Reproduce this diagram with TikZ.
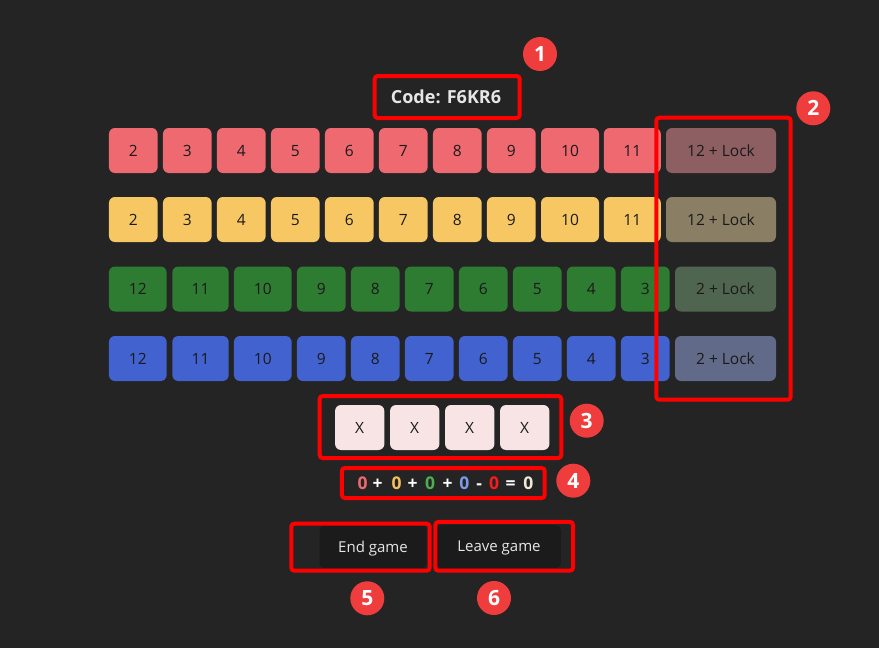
\documentclass[tikz,border=0pt]{standalone}
\usepackage{fontspec}
\setmainfont{Open Sans}
\definecolor{bg}{HTML}{242424}
\definecolor{cred}{HTML}{EE6970}
\definecolor{cyel}{HTML}{F7C763}
\definecolor{cgrn}{HTML}{2E7B32}
\definecolor{cblu}{HTML}{4263CF}
\definecolor{lred}{HTML}{8D5E62}
\definecolor{lyel}{HTML}{8A7E64}
\definecolor{lgrn}{HTML}{4F654F}
\definecolor{lblu}{HTML}{626A89}
\definecolor{xbox}{HTML}{F8E4E4}
\definecolor{btn}{HTML}{1B1B1B}
\definecolor{ann}{HTML}{FF0000}
\definecolor{badge}{HTML}{EF3D3D}
\definecolor{celltext}{HTML}{1A1A1A}
\definecolor{lighttext}{HTML}{E6E6E6}
\definecolor{eqred}{HTML}{EE6970}
\definecolor{eqyel}{HTML}{F5BF5B}
\definecolor{eqgrn}{HTML}{4CAF50}
\definecolor{eqblu}{HTML}{7B9BEA}
\definecolor{eqmin}{HTML}{FF1A1A}
\definecolor{eqend}{HTML}{EFEAD8}
\tikzset{
  cellbox/.style={rectangle, rounded corners=6pt, inner sep=0pt, minimum height=45pt,
    text=celltext, font=\fontsize{15.5}{18}\selectfont, text depth=0pt},
  annbox/.style={rectangle, rounded corners=3pt, draw=ann, line width=4pt, inner sep=0pt},
  badgenode/.style={circle, fill=badge, inner sep=0pt, minimum size=34pt, text=white,
    font=\fontsize{21}{24}\selectfont\bfseries},
  btnbox/.style={rectangle, rounded corners=5pt, fill=btn, inner sep=0pt, minimum height=43pt,
    text=lighttext, font=\fontsize{15}{18}\selectfont, text depth=0pt},
  eqchar/.style={inner sep=0pt, anchor=base, font=\fontsize{17.5}{20}\selectfont\bfseries},
}
\begin{document}
\begin{tikzpicture}[x=1pt,y=-1pt]
\fill[bg] (0,0) rectangle (879,648);
\useasboundingbox (0,0) rectangle (879,648);

% code
\node[annbox, minimum width=145pt, minimum height=42pt] (ann1) at (447.2,97) {};
\node[inner sep=0pt, text=lighttext, font=\fontsize{18}{21}\selectfont\bfseries] (code) at (446,97) {Code: F6KR6};

% red row
\foreach \v [count=\i from 0] in {2,3,4,5,6,7,8,9} {
  \node[cellbox, fill=cred, minimum width=48.7pt] (r\v) at ({133.3+54*\i},150.5) {\v};
}
\node[cellbox, fill=cred, minimum width=58pt] (r10) at (570,150.5) {10};
\node[cellbox, fill=cred, minimum width=57pt] (r11) at (632.3,150.5) {11};
\node[cellbox, fill=lred, minimum width=110pt] (rlock) at (721,150.5) {12 + Lock};

% yellow row
\foreach \v [count=\i from 0] in {2,3,4,5,6,7,8,9} {
  \node[cellbox, fill=cyel, minimum width=48.7pt] (y\v) at ({133.3+54*\i},219.5) {\v};
}
\node[cellbox, fill=cyel, minimum width=58pt] (y10) at (570,219.5) {10};
\node[cellbox, fill=cyel, minimum width=57pt] (y11) at (632.3,219.5) {11};
\node[cellbox, fill=lyel, minimum width=110pt] (ylock) at (721,219.5) {12 + Lock};

% green row
\node[cellbox, fill=cgrn, minimum width=57.7pt] (g12) at (137.8,289) {12};
\node[cellbox, fill=cgrn, minimum width=56.4pt] (g11) at (200.5,289) {11};
\node[cellbox, fill=cgrn, minimum width=57.7pt] (g10) at (262.8,289) {10};
\foreach \v [count=\i from 0] in {9,8,7,6,5,4,3} {
  \node[cellbox, fill=cgrn, minimum width=48.7pt] (g\v) at ({321.3+54*\i},289) {\v};
}
\node[cellbox, fill=lgrn, minimum width=101pt] (glock) at (725.5,289) {2 + Lock};

% blue row
\node[cellbox, fill=cblu, minimum width=57.7pt] (b12) at (137.8,358.5) {12};
\node[cellbox, fill=cblu, minimum width=56.4pt] (b11) at (200.5,358.5) {11};
\node[cellbox, fill=cblu, minimum width=57.7pt] (b10) at (262.8,358.5) {10};
\foreach \v [count=\i from 0] in {9,8,7,6,5,4,3} {
  \node[cellbox, fill=cblu, minimum width=48.7pt] (b\v) at ({321.3+54*\i},358.5) {\v};
}
\node[cellbox, fill=lblu, minimum width=101pt] (block) at (725.5,358.5) {2 + Lock};

\node[annbox, minimum width=134.4pt, minimum height=282pt] (ann2) at (723.5,258.7) {};

% X boxes
\foreach \i in {0,1,2,3} {
  \node[cellbox, fill=xbox, minimum width=49.3pt, minimum height=45pt] (x\i) at ({359.7+55*\i},427.5) {X};
}
\node[annbox, minimum width=241.6pt, minimum height=62pt] (ann3) at (440.5,427) {};

% equation
\node[annbox, minimum width=202.7pt, minimum height=30pt] (ann4) at (443.3,483) {};
\node[eqchar, text=eqred] (e1) at (362.7,489) {0};
\node[eqchar, text=white] (e2) at (377.7,489) {+};
\node[eqchar, text=eqyel] (e3) at (396.7,489) {0};
\node[eqchar, text=white] (e4) at (412.7,489) {+};
\node[eqchar, text=eqgrn] (e5) at (430,489) {0};
\node[eqchar, text=white] (e6) at (447.7,489) {+};
\node[eqchar, text=eqblu] (e7) at (464.3,489) {0};
\node[eqchar, text=white] (e8) at (479.3,489) {-};
\node[eqchar, text=eqmin] (e9) at (494,489) {0};
\node[eqchar, text=white] (e10) at (510.7,489) {=};
\node[eqchar, text=eqend] (e11) at (528.3,489) {0};

% buttons
\node[btnbox, minimum width=107pt] (endg) at (373,546.7) {End game};
\node[btnbox, minimum width=123.7pt] (leave) at (499,546.5) {Leave game};
\node[annbox, minimum width=138.4pt, minimum height=47pt] (ann5) at (360.5,547.2) {};
\node[annbox, minimum width=137.7pt, minimum height=48.7pt] (ann6) at (504.2,546.3) {};

% badges
\node[badgenode] (n1) at (540,54) {1};
\node[badgenode] (n2) at (813.3,108.3) {2};
\node[badgenode] (n3) at (586.7,420.7) {3};
\node[badgenode] (n4) at (573.3,480.7) {4};
\node[badgenode] (n5) at (367.3,598.3) {5};
\node[badgenode] (n6) at (494,598) {6};
\end{tikzpicture}
\end{document}
